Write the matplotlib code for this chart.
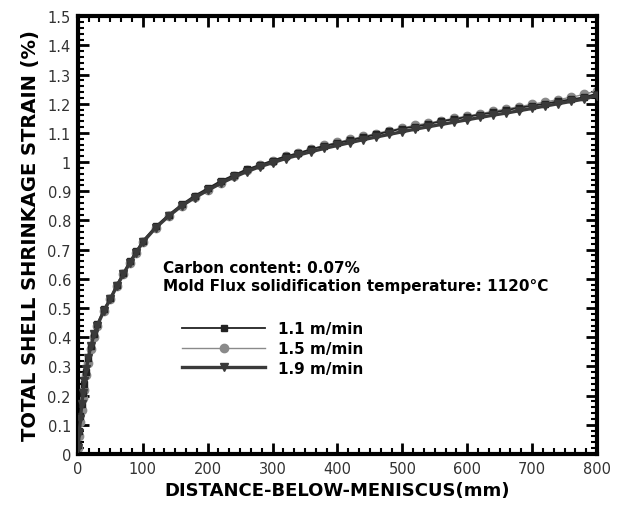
import numpy as np
import matplotlib.pyplot as plt
from matplotlib.ticker import MultipleLocator, AutoMinorLocator, FuncFormatter

plt.rcParams['font.family'] = ['DejaVu Sans']

# distance below meniscus (mm)
dist = [0, 2, 4, 6, 8, 10, 13, 16, 20, 25, 30, 40, 50, 60, 70, 80, 90,
        100, 120, 140, 160, 180, 200, 220, 240, 260, 280, 300, 320, 340,
        360, 380, 400, 420, 440, 460, 480, 500, 520, 540, 560, 580, 600,
        620, 640, 660, 680, 700, 720, 740, 760, 780, 800]

# total shell shrinkage strain (%)
strain_11 = [0.03, 0.08, 0.13, 0.17, 0.21, 0.24, 0.28, 0.33, 0.37, 0.41, 0.445,
             0.495, 0.535, 0.58, 0.62, 0.66, 0.695, 0.73, 0.78, 0.82, 0.855,
             0.885, 0.91, 0.935, 0.955, 0.975, 0.99, 1.005, 1.02, 1.03, 1.045,
             1.055, 1.065, 1.075, 1.085, 1.095, 1.105, 1.115, 1.122, 1.13,
             1.14, 1.147, 1.155, 1.163, 1.17, 1.178, 1.186, 1.193, 1.2, 1.208,
             1.215, 1.222, 1.235]
strain_15 = [0.02, 0.06, 0.11, 0.15, 0.19, 0.22, 0.27, 0.31, 0.36, 0.40, 0.44,
             0.49, 0.53, 0.575, 0.615, 0.655, 0.69, 0.725, 0.775, 0.815, 0.85,
             0.88, 0.905, 0.93, 0.952, 0.972, 0.99, 1.005, 1.02, 1.032, 1.045,
             1.057, 1.068, 1.078, 1.088, 1.098, 1.108, 1.117, 1.126, 1.134,
             1.142, 1.15, 1.158, 1.166, 1.174, 1.182, 1.19, 1.198, 1.206,
             1.214, 1.222, 1.232, 1.245]
strain_19 = [0.02, 0.07, 0.12, 0.17, 0.21, 0.25, 0.29, 0.33, 0.37, 0.41, 0.44,
             0.49, 0.53, 0.575, 0.615, 0.655, 0.69, 0.725, 0.775, 0.815, 0.85,
             0.878, 0.903, 0.927, 0.948, 0.967, 0.984, 0.998, 1.012, 1.024,
             1.036, 1.047, 1.057, 1.067, 1.077, 1.086, 1.095, 1.104, 1.113,
             1.121, 1.129, 1.137, 1.145, 1.153, 1.161, 1.168, 1.176, 1.184,
             1.192, 1.2, 1.208, 1.216, 1.228]

labels = ['1.1 m/min', '1.5 m/min', '1.9 m/min']

fig = plt.figure(figsize=(6.18, 5.06), dpi=100)
ax = fig.add_axes([0.126, 0.101, 0.840, 0.865])

ax.plot(dist, strain_11, color='#222222', lw=1.3, marker='s', ms=5,
        label=labels[0], zorder=3)
ax.plot(dist, strain_15, color='#8a8a8a', lw=1.0, marker='o', ms=6,
        label=labels[1], zorder=2)
ax.plot(dist, strain_19, color='#3a3a3a', lw=2.4, marker='v', ms=5.5,
        label=labels[2], zorder=4)

ax.set_xlim(0, 800)
ax.set_ylim(0, 1.5)
ax.xaxis.set_major_locator(MultipleLocator(100))
ax.xaxis.set_minor_locator(AutoMinorLocator(6))
ax.yaxis.set_major_locator(MultipleLocator(0.1))
ax.yaxis.set_minor_locator(AutoMinorLocator(5))
ax.yaxis.set_major_formatter(FuncFormatter(lambda v, p: '%g' % round(v, 2)))

for s in ax.spines.values():
    s.set_linewidth(3)
ax.tick_params(which='both', direction='in', top=True, right=True,
               labelsize=10.5, labelcolor='#333333', pad=5)
ax.tick_params(which='major', length=8, width=2)
ax.tick_params(which='minor', length=4, width=1.5)

ax.set_xlabel('DISTANCE-BELOW-MENISCUS(mm)', fontsize=13, fontweight='bold',
              labelpad=4)
ax.set_ylabel('TOTAL SHELL SHRINKAGE STRAIN (%)', fontsize=14,
              fontweight='bold', labelpad=5)

ax.text(0.164, 0.443, 'Carbon content: 0.07%\n'
        'Mold Flux solidification temperature: 1120°C',
        transform=ax.transAxes, fontsize=11, fontweight='bold',
        va='top', linespacing=1.25)

ax.legend(loc='upper left', bbox_to_anchor=(0.175, 0.334), frameon=False,
          numpoints=1, handlelength=5.4, handletextpad=0.85, labelspacing=0.3,
          borderpad=0.4, prop={'weight': 'bold', 'size': 11})

fig.savefig('out.png', dpi=100)
